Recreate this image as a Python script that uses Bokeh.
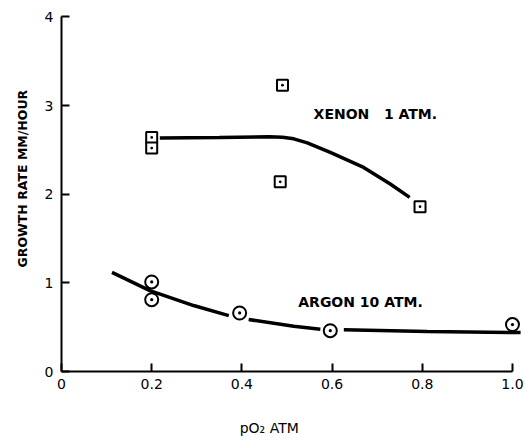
from bokeh.plotting import figure
from bokeh.models import Range1d, Label, FixedTicker, Title
from bokeh.embed import file_html
from bokeh.resources import INLINE

nan = float("nan")

# Measured points
xenon_x = [0.2, 0.2, 0.49, 0.485, 0.795]
xenon_y = [2.64, 2.52, 3.23, 2.14, 1.86]
argon_x = [0.2, 0.2, 0.395, 0.596, 1.0]
argon_y = [1.01, 0.81, 0.66, 0.46, 0.53]

# Hand-drawn fitted curves (NaN = gap in the pen line)
xenon_curve_x = [0.218, 0.35, 0.46, 0.49, 0.515, 0.545, 0.596, 0.670, 0.729, 0.772]
xenon_curve_y = [2.633, 2.64, 2.648, 2.643, 2.625, 2.58, 2.471, 2.302, 2.115, 1.964]
argon_curve_x = [0.112, 0.196, 0.293, 0.371, nan, 0.415, 0.515, 0.574, nan, 0.626, 0.811, 1.018]
argon_curve_y = [1.119, 0.913, 0.744, 0.631, nan, 0.586, 0.511, 0.477, nan, 0.470, 0.451, 0.439]

x_ticks = [0, 0.2, 0.4, 0.6, 0.8, 1.0]
x_tick_labels = {0: "0", 0.2: "0.2", 0.4: "0.4", 0.6: "0.6", 0.8: "0.8", 1.0: "1.0"}
y_ticks = [0, 1, 2, 3, 4]

NBSP = "\u00a0"

p = figure(width=525, height=441, output_backend="svg", toolbar_location=None,
           x_range=Range1d(0, 1.02), y_range=Range1d(0, 4.05),
           min_border_left=61, min_border_right=4, min_border_top=12, min_border_bottom=70)
p.outline_line_color = None
p.xgrid.visible = False
p.ygrid.visible = False
p.background_fill_color = "white"

p.line(xenon_curve_x, xenon_curve_y, line_color="black", line_width=3.5)
p.line(argon_curve_x, argon_curve_y, line_color="black", line_width=3.5)

p.scatter(xenon_x, xenon_y, marker="square_dot", size=11, fill_color="white",
          line_color="black", line_width=2)
p.scatter(argon_x, argon_y, marker="circle_dot", size=13, fill_color="white",
          line_color="black", line_width=2)

for ax in (p.xaxis, p.yaxis):
    ax.axis_line_width = 2
    ax.axis_line_color = "black"
    ax.major_tick_line_width = 2
    ax.major_tick_in = 8
    ax.major_tick_out = 0
    ax.minor_tick_line_color = None
    ax.major_label_text_font = "DejaVu Sans"
    ax.major_label_text_font_size = "14px"
    ax.major_label_text_color = "black"

p.xaxis.ticker = FixedTicker(ticks=x_ticks)
p.xaxis.major_label_overrides = x_tick_labels
p.xaxis.bounds = (0, 1.0)
p.xaxis.major_label_standoff = 7
# label sits left of the axis centre in the original: pad it on the right
p.xaxis.axis_label = "pO₂ ATM" + NBSP * 10
p.xaxis.axis_label_standoff = 28
p.xaxis.axis_label_text_font = "DejaVu Sans"
p.xaxis.axis_label_text_font_style = "normal"
p.xaxis.axis_label_text_font_size = "14px"
p.xaxis.axis_label_text_color = "black"

p.yaxis.ticker = FixedTicker(ticks=y_ticks)
p.yaxis.bounds = (0, 4)
p.yaxis.major_label_standoff = 8

p.add_layout(Title(text="GROWTH RATE MM/HOUR", align="left", offset=104, standoff=24,
                   text_font="DejaVu Sans", text_font_style="bold", text_font_size="12.5px",
                   text_color="black"), "left")

p.add_layout(Label(x=0.559, y=2.91, text="XENON" + NBSP * 2 + " 1 ATM.", text_font="DejaVu Sans",
                   text_font_style="bold", text_font_size="14px", text_baseline="middle",
                   text_color="black"))
p.add_layout(Label(x=0.525, y=0.78, text="ARGON 10 ATM.", text_font="DejaVu Sans",
                   text_font_style="bold", text_font_size="14px", text_baseline="middle",
                   text_color="black"))

open("out.html", "w").write(file_html(p, INLINE))
